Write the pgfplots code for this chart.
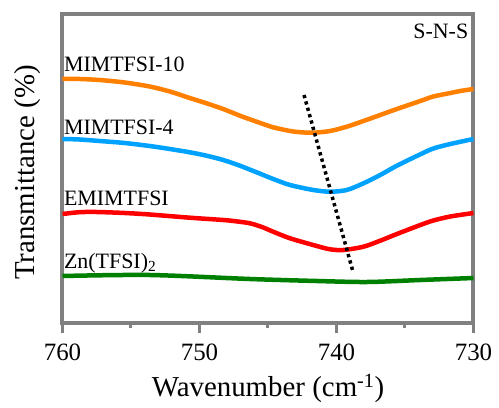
\documentclass[border=0pt]{standalone}
\usepackage{fontspec}
\setmainfont{Liberation Serif}
\usepackage{pgfplots}
\pgfplotsset{compat=1.18}
\definecolor{corange}{RGB}{255,128,0}
\definecolor{cblue}{RGB}{0,162,255}
\definecolor{cred}{RGB}{255,0,0}
\definecolor{cgreen}{RGB}{0,128,0}
\definecolor{cframe}{RGB}{128,128,128}
\begin{document}
\begin{tikzpicture}
\begin{axis}[
  name=ax,
  scale only axis, width=411bp, height=309bp,
  xmin=730, xmax=760, x dir=reverse, ymin=0, ymax=309,
  axis line style={draw=cframe, line width=4bp},
  xtick={730,740,750,760}, minor xtick={735,745,755},
  ytick=\empty, xtick pos=bottom, tick align=outside,
  major tick length=10bp, minor tick length=5bp,
  major tick style={draw=cframe, line width=3bp},
  minor tick style={draw=cframe, line width=3bp},
  /pgf/number format/assume math mode=true,
  xticklabel style={font=\rmfamily\fontsize{25}{30}\selectfont, anchor=base, yshift=-27bp},
  xlabel={Wavenumber (cm\textsuperscript{-1})},
  ylabel={Transmittance (\%)},
  xlabel style={font=\rmfamily\fontsize{29}{34}\selectfont, at={(axis description cs:0.5,-0.238)}, anchor=base},
  ylabel style={font=\rmfamily\fontsize{29}{34}\selectfont, at={(axis description cs:-0.067,0.487)}, anchor=base, rotate=0},
  clip=false,
]
% MIMTFSI-10
\addplot[corange, line width=4.5bp, smooth] coordinates {
(760,244) (758.76,244) (757.29,243) (755.46,240.5) (753.64,236.5) (752.17,231.5)
(750.71,225) (749.49,219.7) (748.27,214) (747.05,207.3) (745.83,201.3) (744.62,195.7)
(743.39,192) (742.66,190.8) (741.69,190.3) (740.47,192) (739.25,196.3) (738.03,202)
(736.81,208) (735.59,214) (733.88,222) (732.93,226.5) (731.69,230) (730.96,232) (730,234)};
% MIMTFSI-4
\addplot[cblue, line width=4.5bp, smooth] coordinates {
(760,184) (758.76,183.5) (757.29,182) (755.46,180) (753.64,177) (752.17,174)
(750.71,170.7) (749.49,167.3) (748.27,163) (747.05,157.3) (745.83,150.7) (744.62,144)
(743.39,138) (741.69,133) (740.47,131.3) (739.25,133) (738.03,139.7) (736.81,148)
(735.59,157.3) (733.88,168.7) (732.93,174.5) (731.69,179) (730,184)};
% EMIMTFSI
\addplot[cred, line width=4.5bp, smooth] coordinates {
(760,109) (758.76,110.8) (757.51,111) (755.46,110) (753.64,108.5) (750.71,105.3)
(748.27,103) (747.34,101.7) (746.32,99.7) (745.44,96) (744.62,91.3) (743.39,84.7)
(741.44,77) (740.47,73.7) (739.50,73) (738.03,76.3) (736.81,82.3) (735.59,89)
(733.88,98) (732.93,102.5) (731.69,106.5) (730,110)};
% Zn(TFSI)2
\addplot[cgreen, line width=4.5bp, smooth] coordinates {
(760,47) (753.64,48) (746.32,44) (741.42,42) (737.76,41) (733.88,43) (730,45)};
% guide line
\addplot[black, line width=3.5bp, dash pattern=on 3.3bp off 3.3bp, sharp plot] coordinates {(742.37,228) (738.79,51)};
\node[anchor=base west, inner sep=0pt, font=\rmfamily\fontsize{22}{26}\selectfont] at (axis cs:759.9,251) {MIMTFSI-10};
\node[anchor=base west, inner sep=0pt, font=\rmfamily\fontsize{22}{26}\selectfont] at (axis cs:759.9,188) {MIMTFSI-4};
\node[anchor=base west, inner sep=0pt, font=\rmfamily\fontsize{22}{26}\selectfont] at (axis cs:759.9,117.3) {EMIMTFSI};
\node[anchor=base west, inner sep=0pt, font=\rmfamily\fontsize{22}{26}\selectfont] at (axis cs:759.9,55) {Zn(TFSI)\textsubscript{2}};
\node[anchor=base east, inner sep=0pt, font=\rmfamily\fontsize{22}{26}\selectfont] at (axis cs:730.37,284) {S-N-S};
\end{axis}
\pgfresetboundingbox
\path[use as bounding box] ([shift={(-62.5bp,-85bp)}]ax.south west) rectangle ([shift={(436.5bp,323bp)}]ax.south west);
\end{tikzpicture}
\end{document}
